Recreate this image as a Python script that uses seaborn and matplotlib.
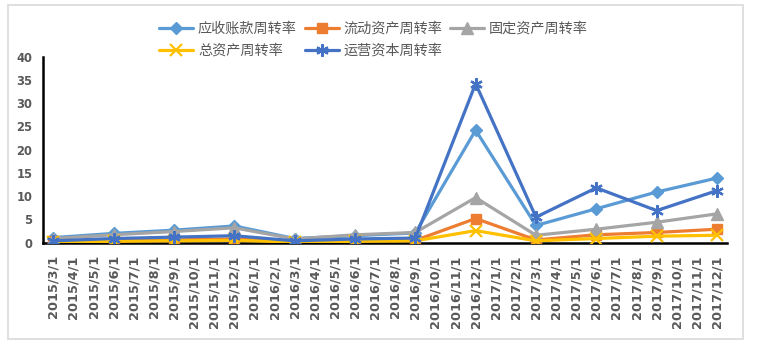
import numpy as np
import pandas as pd
import matplotlib
matplotlib.use("Agg")
import matplotlib.pyplot as plt
import seaborn as sns
from matplotlib.patches import Rectangle

# ---- data ----
months = [f"{y}/{m}/1" for y in (2015, 2016, 2017) for m in range(1, 13)]
months = months[2:]  # 2015/3/1 .. 2017/12/1
dates = ['2015/3/1', '2015/6/1', '2015/9/1', '2015/12/1', '2016/3/1', '2016/6/1',
         '2016/9/1', '2016/12/1', '2017/3/1', '2017/6/1', '2017/9/1', '2017/12/1']
receivable = [1.1, 2.0, 2.7, 3.6, 0.9, 1.5, 2.1, 24.2, 3.7, 7.3, 10.9, 13.9]
current = [0.3, 0.4, 0.6, 0.8, 0.2, 0.4, 0.5, 5.2, 0.6, 1.7, 2.2, 2.9]
fixed = [0.9, 1.7, 2.4, 3.2, 0.8, 1.7, 2.2, 9.7, 1.6, 2.9, 4.4, 6.2]
total = [0.2, 0.3, 0.4, 0.5, 0.15, 0.3, 0.4, 2.6, 0.4, 0.9, 1.4, 1.6]
working = [0.4, 0.9, 1.2, 1.5, 0.4, 0.8, 1.0, 34.2, 5.5, 11.8, 6.9, 11.2]
names = ['应收账款周转率', '流动资产周转率', '固定资产周转率', '总资产周转率', '运营资本周转率']
yticks = [0, 5, 10, 15, 20, 25, 30, 35, 40]

series = [receivable, current, fixed, total, working]
colors = ['#5B9BD5', '#ED7D31', '#A5A5A5', '#FFC000', '#4472C4']
markers = ['D', 's', '^', 'x', (6, 2, 0)]
msizes = [6.5, 7.5, 8, 8, 9]

sns.set_theme(style="white")
plt.rcParams['font.family'] = ['Noto Sans CJK SC', 'DejaVu Sans']

fig = plt.figure(figsize=(7.66, 3.48), dpi=100)
ax = fig.add_axes([43.3 / 766, 1 - 242.7 / 348, (727 - 43.3) / 766, (242.7 - 56.7) / 348])

pos = [months.index(d) for d in dates]
handles = []
for i, (name, vals) in enumerate(zip(names, series)):
    df = pd.DataFrame({'x': pos, 'y': vals})
    sns.lineplot(data=df, x='x', y='y', ax=ax, color=colors[i], linewidth=2.3,
                 marker=markers[i], markersize=msizes[i], markeredgecolor=colors[i],
                 markerfacecolor=colors[i], markeredgewidth=1.6 if i >= 3 else 1,
                 label=name, zorder=3 + i, legend=False)
    handles.append(ax.lines[-1])

ax.set_xlim(-0.5, len(months) - 0.5)
ax.set_ylim(0, 40)
ax.set_yticks(yticks)
ax.set_yticklabels([str(v) for v in yticks], fontsize=8.3, fontweight='bold',
                   color='#595959', family='DejaVu Sans')
ax.set_xticks(range(len(months)))
ax.set_xticklabels(months, rotation=90, fontsize=9.3, fontweight='bold',
                   color='#595959', family='DejaVu Sans')
ax.set_xticks(np.arange(-0.5, len(months) + 0.5, 1), minor=True)
ax.tick_params(axis='x', which='major', length=0, pad=9)
ax.tick_params(axis='x', which='minor', length=5, width=1.5, color='black', direction='out')
ax.tick_params(axis='y', which='major', length=5, width=1.5, color='black', direction='out', pad=3)
ax.set_xlabel('')
ax.set_ylabel('')
for s in ['top', 'right']:
    ax.spines[s].set_visible(False)
for s in ['left', 'bottom']:
    ax.spines[s].set_color('black')
    ax.spines[s].set_linewidth(1.8)
ax.grid(False)

order = [0, 3, 1, 4, 2]
leg = fig.legend([handles[k] for k in order], [names[k] for k in order],
                 ncol=3, loc='upper left', bbox_to_anchor=(159 / 766, 1 - 21.5 / 348),
                 frameon=False, fontsize=10.2, handlelength=2.4, handletextpad=0.35,
                 columnspacing=0.55, labelspacing=0.6, borderpad=0, borderaxespad=0)
for t in leg.get_texts():
    t.set_color('#595959')

fig.patches.append(Rectangle((8 / 766, 1 - 339 / 348), (743 - 8) / 766, (339 - 5) / 348,
                             transform=fig.transFigure, fill=False,
                             edgecolor='#D9D9D9', linewidth=1.2))

fig.savefig('out.png', dpi=100)
